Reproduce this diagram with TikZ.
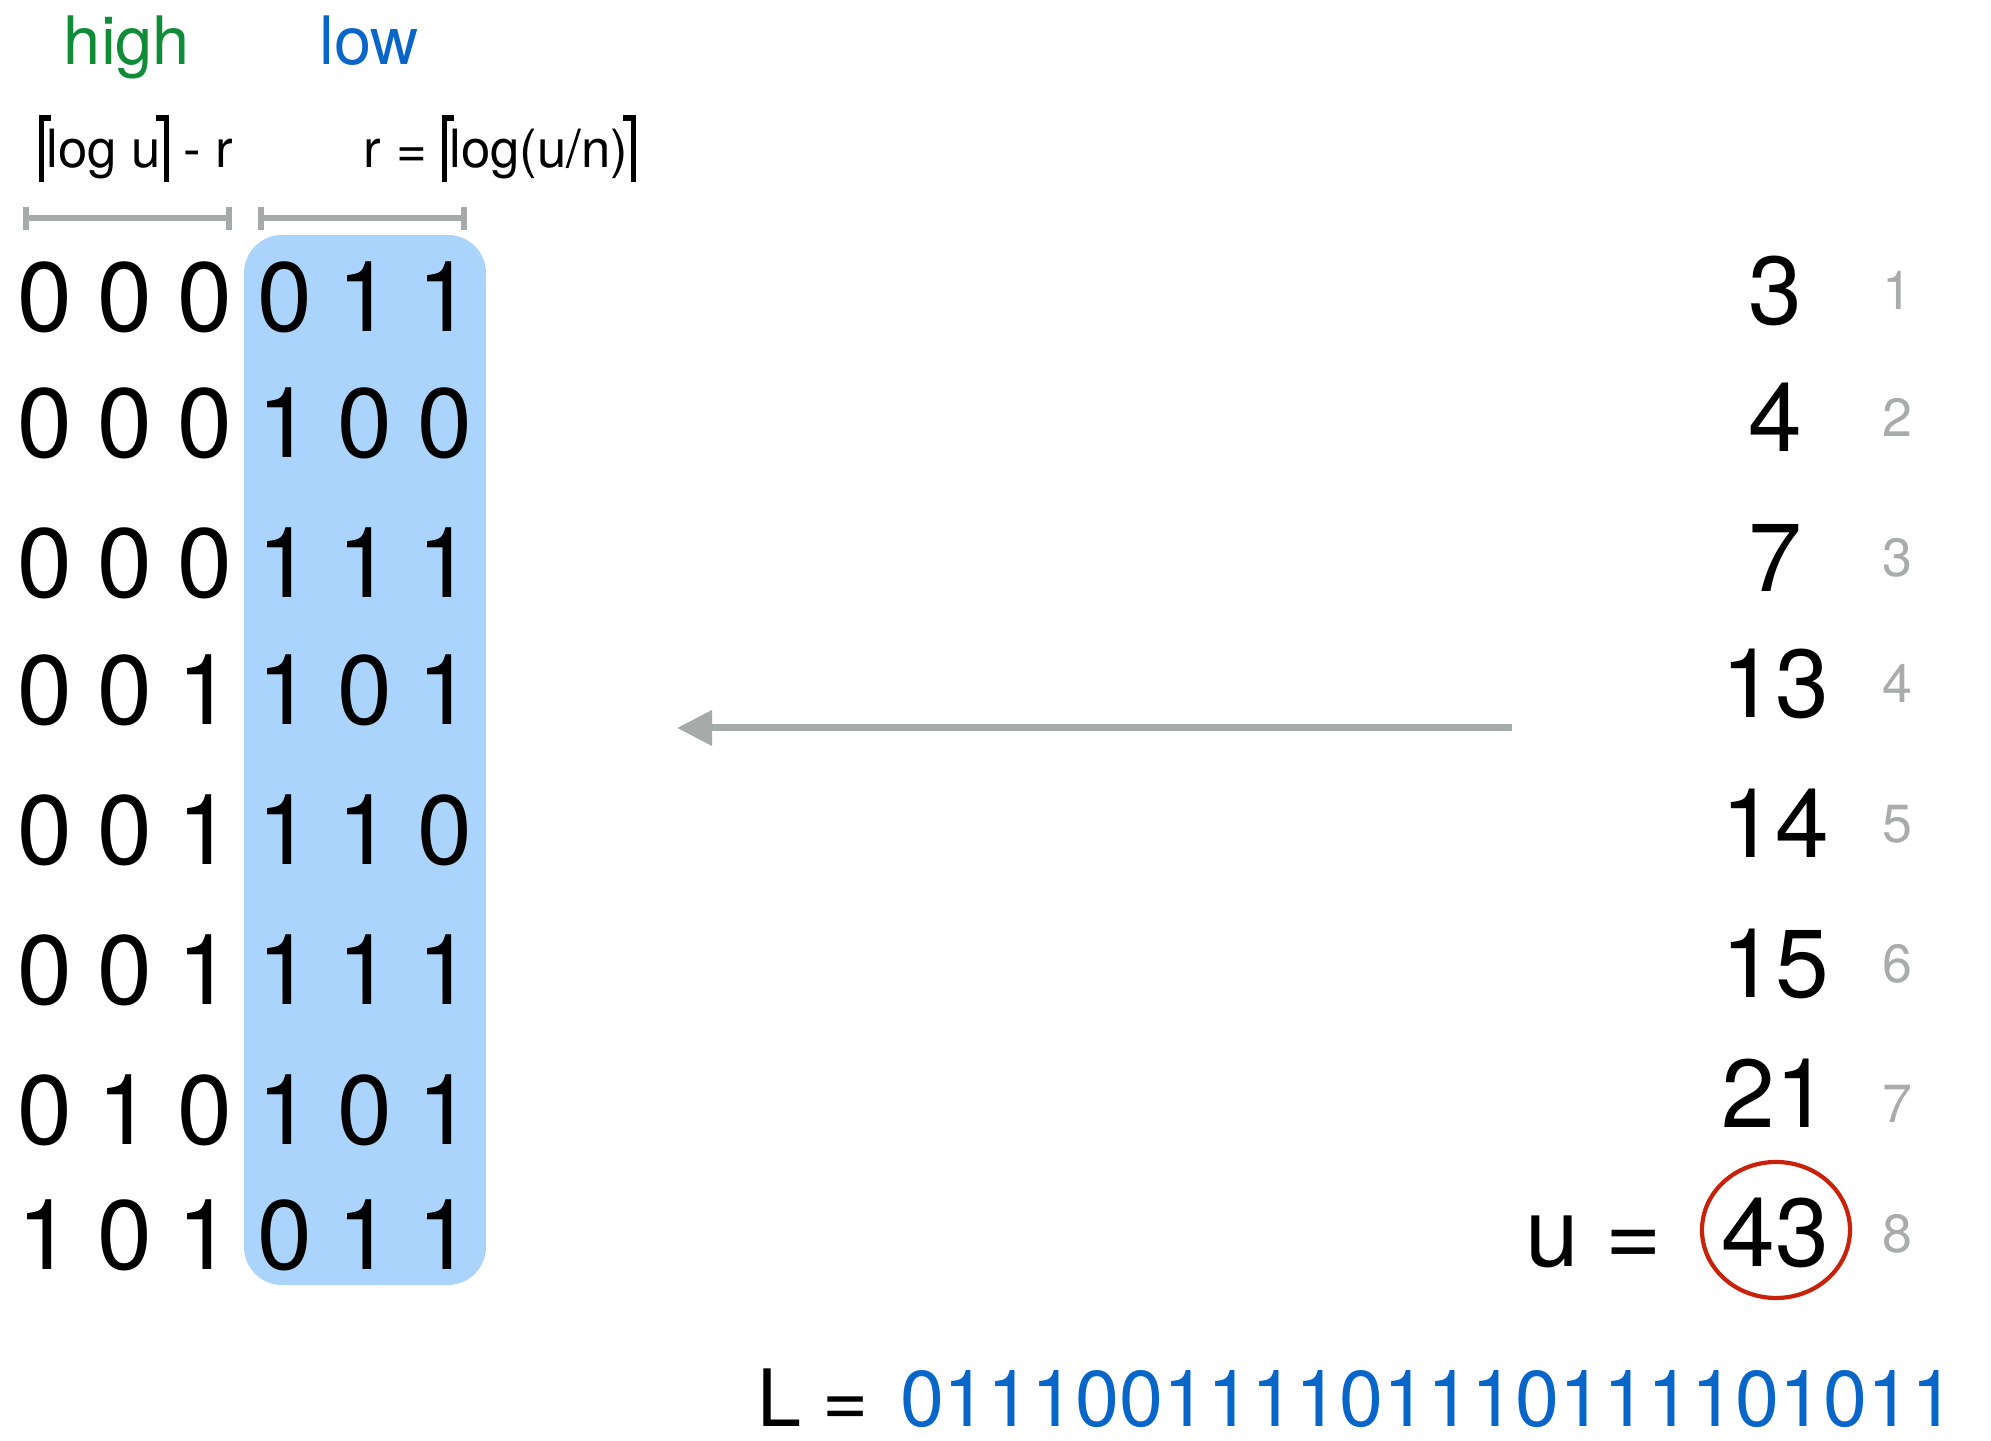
\documentclass[tikz,border=0pt]{standalone}
\usepackage{fontspec}
\setmainfont{TeX Gyre Heros}
\usetikzlibrary{arrows.meta}
\definecolor{hiGreen}{RGB}{16,139,56}
\definecolor{loBlue}{RGB}{8,102,200}
\definecolor{boxBlue}{RGB}{170,212,251}
\definecolor{barGray}{RGB}{166,170,169}
\definecolor{idxGray}{RGB}{170,172,172}
\definecolor{circRed}{RGB}{200,35,10}
\newcommand\myLceil{\rule[-0.27em]{0.1em}{1.27em}\kern-0.1em\rlap{\rule[0.9em]{0.24em}{0.1em}}\kern0.15em}
\newcommand\myRceil{\kern0.05em\rule[-0.27em]{0.1em}{1.27em}\llap{\rule[0.9em]{0.24em}{0.1em}}}
\begin{document}
\begin{tikzpicture}[x=1cm,y=1cm,
  every node/.style={inner sep=0pt, outer sep=0pt},
  bitdigit/.style={font=\fontsize{28}{30}\selectfont, anchor=base},
  valnum/.style={font=\fontsize{27.5}{30}\selectfont, anchor=base},
  idxnum/.style={font=\fontsize{15.3}{17}\selectfont, anchor=base, text=idxGray},
  headlbl/.style={font=\fontsize{19}{21}\selectfont, anchor=base},
  formula/.style={font=\fontsize{15}{17}\selectfont, anchor=base},
  spanbar/.style={draw=barGray, line width=1.7pt},
  bigarrow/.style={draw=barGray, line width=2pt, -{Triangle[length=0.35cm,width=0.34cm]}}
]
\useasboundingbox (0,0) rectangle (19.91,14.41);

% low-bits highlight
\fill[boxBlue, rounded corners=3.8mm] (2.44,1.56) rectangle (4.86,12.06);

% headings
\node[headlbl, text=hiGreen] (high) at (1.27,13.76) {high};
\node[headlbl, text=loBlue] (low) at (3.69,13.76) {low};
\node[formula] (fhigh) at (1.36,12.73) {\myLceil log u\myRceil{} - r};
\node[formula] (flow) at (5.00,12.73) {r = \myLceil log(u/n)\myRceil};

% span bars
\draw[spanbar] (0.26,12.34) -- (0.26,12.11);
\draw[spanbar] (0.26,12.23) -- (2.29,12.23);
\draw[spanbar] (2.29,12.34) -- (2.29,12.11);
\draw[spanbar] (2.61,12.34) -- (2.61,12.11);
\draw[spanbar] (2.61,12.23) -- (4.64,12.23);
\draw[spanbar] (4.64,12.34) -- (4.64,12.11);

% bit grid
\foreach \r/\y/\bits in {1/11.09/{0,0,0,0,1,1},
                         2/9.83/{0,0,0,1,0,0},
                         3/8.43/{0,0,0,1,1,1},
                         4/7.16/{0,0,1,1,0,1},
                         5/5.76/{0,0,1,1,1,0},
                         6/4.36/{0,0,1,1,1,1},
                         7/2.96/{0,1,0,1,0,1},
                         8/1.71/{1,0,1,0,1,1}}{
  \foreach \b [count=\c] in \bits {
    \pgfmathsetmacro\xx{0.45+0.8*(\c-1)}
    \node[bitdigit] (d\r-\c) at (\xx,\y) {\b};
  }
}

% values and indices
\foreach \i/\v/\y/\yi in {1/3/11.16/11.31, 2/4/9.89/10.04, 3/7/8.49/8.64,
                          4/13/7.23/7.38, 5/14/5.83/5.98, 6/15/4.43/4.58,
                          7/21/3.13/3.18, 8/43/1.74/1.88}{
  \node[valnum] (v\i) at (17.75,\y) {\v};
  \node[idxnum] (ix\i) at (18.97,\yi) {\i};
}
\node[valnum, anchor=base west] (ueq) at (15.25,1.74) {u =};
\draw[circRed, line width=1.2pt] (17.76,2.11) ellipse [x radius=0.74, y radius=0.68];

% arrow
\coordinate (arrowstart) at (15.12,7.13);
\coordinate (arrowend) at (6.77,7.13);
\draw[bigarrow] (arrowstart) -- (arrowend);

% bottom line
\node[font=\fontsize{22.5}{24}\selectfont, anchor=base west] (Leq) at (7.57,0.14) {L =};
\node[font=\fontsize{22.5}{24}\selectfont, anchor=base west, text=loBlue] (Lbits) at (9.00,0.14) {011100111101110111101011};
\end{tikzpicture}
\end{document}
